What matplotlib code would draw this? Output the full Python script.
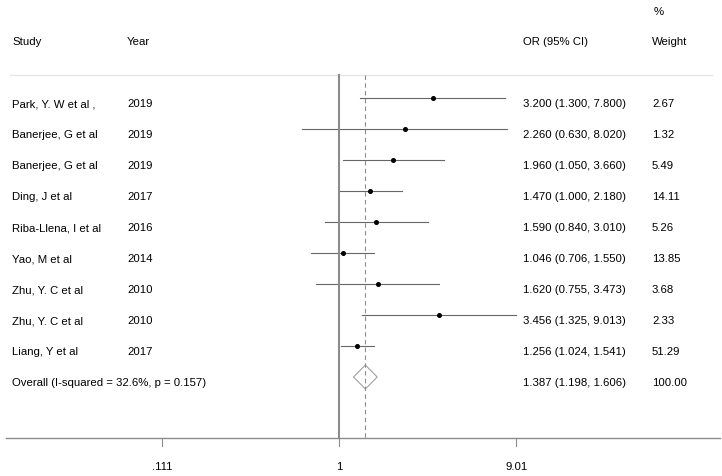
import numpy as np
import matplotlib
matplotlib.use("Agg")
import matplotlib.pyplot as plt
from matplotlib.patches import Polygon

plt.rcParams['font.family'] = ['Liberation Sans', 'DejaVu Sans']

studies = ["Park, Y. W et al ,", "Banerjee, G et al", "Banerjee, G et al", "Ding, J et al",
           "Riba-Llena, I et al", "Yao, M et al", "Zhu, Y. C et al", "Zhu, Y. C et al",
           "Liang, Y et al"]
years = ["2019", "2019", "2019", "2017", "2016", "2014", "2010", "2010", "2017"]
or_est = [3.200, 2.260, 1.960, 1.470, 1.590, 1.046, 1.620, 3.456, 1.256]
ci_low = [1.300, 0.630, 1.050, 1.000, 0.840, 0.706, 0.755, 1.325, 1.024]
ci_high = [7.800, 8.020, 3.660, 2.180, 3.010, 1.550, 3.473, 9.013, 1.541]
weights = ["2.67", "1.32", "5.49", "14.11", "5.26", "13.85", "3.68", "2.33", "51.29"]
overall_label = "Overall (I-squared = 32.6%, p = 0.157)"
overall = (1.387, 1.198, 1.606)
overall_weight = "100.00"
xticks = [0.111, 1, 9.01]
xticklabels = [".111", "1", "9.01"]

W, H = 722, 476
fig = plt.figure(figsize=(W / 100, H / 100), dpi=100)
ax = fig.add_axes([0, 0, 1, 1])
ax.set_xscale("log")
# pixel mapping: x=1 at px 339
ppl = 80.6
x0 = 339
ax.set_xlim(np.exp((0 - x0) / ppl), np.exp((W - x0) / ppl))
# rows: row 1 at y=98 px, step 31 px
def ry(px):
    return 1 + (px - 98) / 31.0
ax.set_ylim(ry(H), ry(0))
ax.axis("off")

fs = 8.2
gray = "#666666"
txt_off = 0.2  # text sits slightly below the marker line

n = len(studies)
rows = np.arange(1, n + 1)
xf = lambda px: px / W
tr = ax.get_yaxis_transform()  # x in axes fraction, y in data

# header
ax.text(xf(12), ry(42), "Study", transform=tr, fontsize=fs, va="center", ha="left")
ax.text(xf(127), ry(42), "Year", transform=tr, fontsize=fs, va="center", ha="left")
ax.text(xf(523), ry(42), "OR (95% CI)", transform=tr, fontsize=fs, va="center", ha="left")
ax.text(xf(652), ry(42), "Weight", transform=tr, fontsize=fs, va="center", ha="left")
ax.text(xf(654), ry(12), "%", transform=tr, fontsize=fs, va="center", ha="left")

# separator line
ax.plot([xf(10), xf(712)], [ry(75), ry(75)], transform=tr, color="#e6e6e6", lw=1)

# study rows
for i in range(n):
    y = rows[i]
    ax.plot([ci_low[i], ci_high[i]], [y, y], color=gray, lw=0.8)
    ax.plot(or_est[i], y, "o", color="black", ms=2.6)
    ax.text(xf(12), y + txt_off, studies[i], transform=tr, fontsize=fs, va="center", ha="left")
    ax.text(xf(127), y + txt_off, years[i], transform=tr, fontsize=fs, va="center", ha="left")
    ax.text(xf(523), y + txt_off, f"{or_est[i]:.3f} ({ci_low[i]:.3f}, {ci_high[i]:.3f})",
            transform=tr, fontsize=fs, va="center", ha="left")
    ax.text(xf(652), y + txt_off, weights[i], transform=tr, fontsize=fs, va="center", ha="left")

# overall
yo = n + 1
est, lo, hi = overall
dh = 12 / 31.0
diamond = Polygon([[lo, yo], [est, yo - dh], [hi, yo], [est, yo + dh]], closed=True,
                  fill=False, edgecolor="#a0a0a0", lw=0.8)
ax.add_patch(diamond)
ax.text(xf(12), yo + txt_off, overall_label, transform=tr, fontsize=fs, va="center", ha="left")
ax.text(xf(523), yo + txt_off, f"{est:.3f} ({lo:.3f}, {hi:.3f})", transform=tr, fontsize=fs,
        va="center", ha="left")
ax.text(xf(652), yo + txt_off, overall_weight, transform=tr, fontsize=fs, va="center", ha="left")

# reference lines
ytop, yaxis = ry(75), ry(438)
ax.plot([1, 1], [ytop, yaxis], color="#8c8c8c", lw=1.5)
ax.plot([est, est], [ytop, yaxis], color="#8c8c8c", lw=0.8, ls=(0, (4, 3)))

# x axis
ax.plot([xf(6), xf(720)], [yaxis, yaxis], transform=tr, color="#8c8c8c", lw=1)
for t, lab in zip(xticks, xticklabels):
    ax.plot([t, t], [yaxis, ry(446)], color="#8c8c8c", lw=0.8)
    ax.text(t, ry(467), lab, fontsize=fs, va="center", ha="center")

fig.savefig("out.png", dpi=100)
